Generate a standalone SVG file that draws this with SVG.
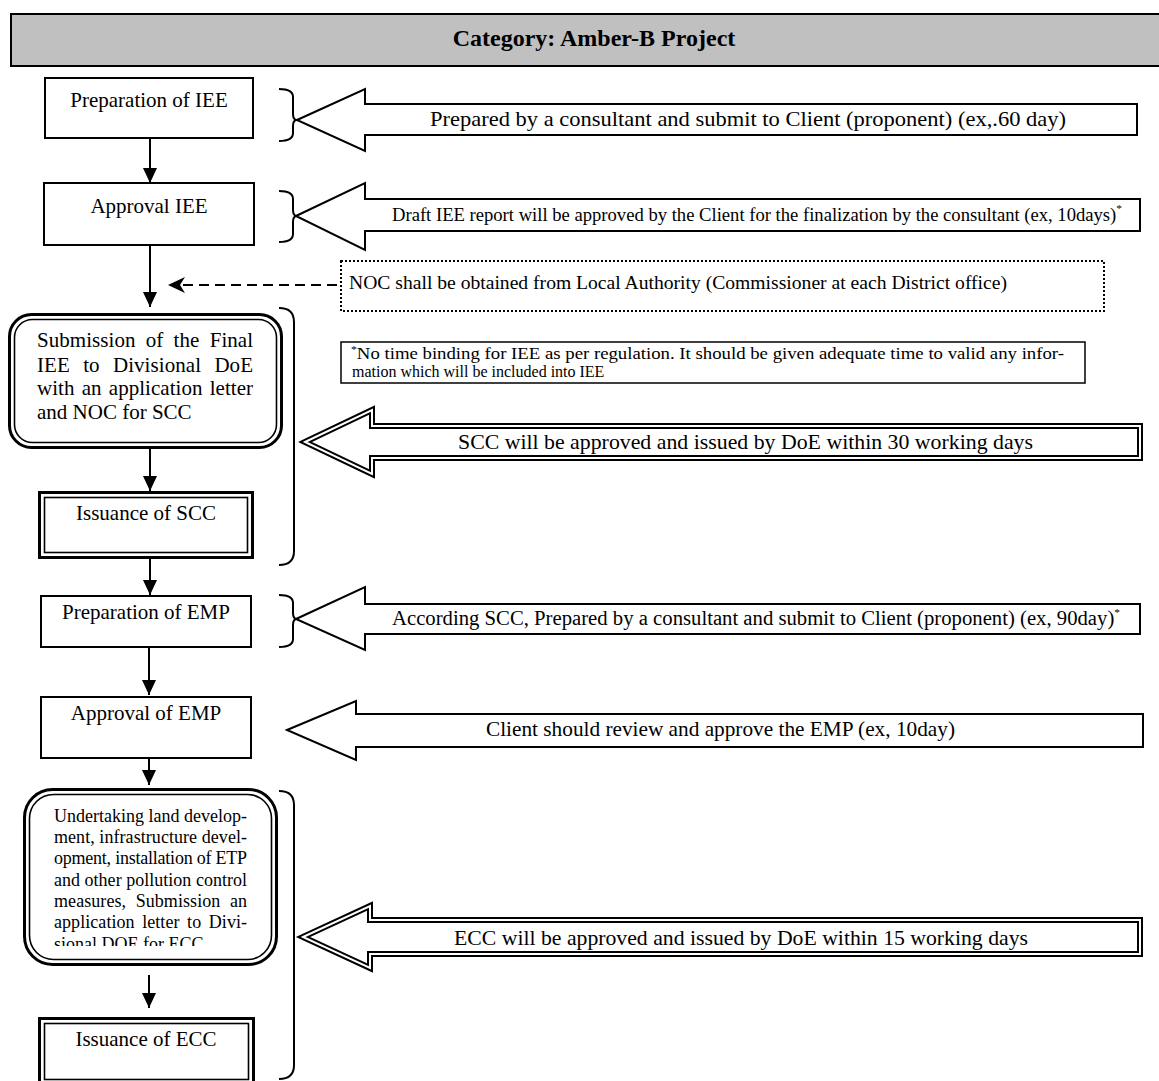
<svg xmlns="http://www.w3.org/2000/svg" width="1159" height="1081" viewBox="0 0 1159 1081">
<style>
text{font-family:"Liberation Serif","Times New Roman",serif;fill:#000}
.t{font-size:21px}
.c{text-anchor:middle}
.box{fill:#fff;stroke:#000;stroke-width:2}
.dbo{fill:#fff;stroke:#000;stroke-width:3}
.dbi{fill:none;stroke:#000;stroke-width:1.6}
.br{fill:none;stroke:#000;stroke-width:2}
.ha{fill:#fff;stroke:#000;stroke-width:2;stroke-linejoin:miter}
.dao{fill:#fff;stroke:#000;stroke-width:6;stroke-linejoin:miter}
.dai{fill:none;stroke:#fff;stroke-width:2;stroke-linejoin:miter}
.ln{stroke:#000;stroke-width:2;fill:none}
.sup{font-size:11px}
</style>
<defs>
<marker id="ah" markerUnits="userSpaceOnUse" markerWidth="15" markerHeight="14" viewBox="0 0 15 14" refX="15" refY="7" orient="auto"><path d="M0,0 L15,7 L0,14 z" fill="#000"/></marker>
<clipPath id="clipU"><rect x="30" y="795" width="242" height="151"/></clipPath>
</defs>

<g id="header">
<rect x="11" y="14" width="1160" height="52" fill="#c0c0c0" stroke="#000" stroke-width="2"/>
<text x="594" y="46" class="c" style="font-size:24px;font-weight:bold">Category: Amber-B Project</text>
</g>

<g id="connectors">
<line class="ln" x1="150" y1="138" x2="150" y2="183" marker-end="url(#ah)"/>
<line class="ln" x1="150" y1="245" x2="150" y2="307" marker-end="url(#ah)"/>
<line class="ln" x1="150" y1="449" x2="150" y2="491" marker-end="url(#ah)"/>
<line class="ln" x1="150" y1="559" x2="150" y2="595" marker-end="url(#ah)"/>
<line class="ln" x1="149" y1="647" x2="149" y2="695" marker-end="url(#ah)"/>
<line class="ln" x1="149" y1="758" x2="149" y2="785" marker-end="url(#ah)"/>
<line class="ln" x1="149" y1="975" x2="149" y2="1008" marker-end="url(#ah)"/>
<line x1="337" y1="285" x2="180" y2="285" stroke="#000" stroke-width="2" stroke-dasharray="10,6"/>
<path d="M168,285 L185,277 L180,285 L185,293 Z" fill="#000"/>
</g>

<g id="brackets">
<path class="br" d="M279,89 Q293,89 293,97 L293,114 Q293,120 297,120 Q293,120 293,126 L293,133 Q293,141 279,141"/>
<path class="br" d="M279,191 Q293,191 293,199 L293,210 Q293,216 297,216 Q293,216 293,222 L293,234 Q293,242 279,242"/>
<path class="br" d="M279,308 Q294,308 294,322 L294,551 Q294,565 279,565"/>
<path class="br" d="M279,595 Q293,595 293,603 L293,613 Q293,619 297,619 Q293,619 293,625 L293,639 Q293,647 279,647"/>
<path class="br" d="M279,791 Q294,791 294,805 L294,1065 Q294,1079 279,1079"/>
</g>

<g id="n-prep-iee">
<rect class="box" x="45" y="78" width="208" height="60"/>
<text class="t c" x="149" y="107">Preparation of IEE</text>
</g>

<g id="n-approval-iee">
<rect class="box" x="44" y="183" width="210" height="62"/>
<text class="t c" x="149" y="213">Approval IEE</text>
</g>

<g id="n-submission">
<rect class="dbo" x="9.5" y="314.5" width="272" height="133" rx="22"/>
<rect class="dbi" x="14.5" y="319.5" width="262" height="123" rx="18"/>
<text class="t" x="37" y="347" word-spacing="5" textLength="216" lengthAdjust="spacing">Submission of the Final</text>
<text class="t" x="37" y="372" word-spacing="8" textLength="216" lengthAdjust="spacing">IEE to Divisional DoE</text>
<text class="t" x="37" y="395" word-spacing="2" textLength="216" lengthAdjust="spacing">with an application letter</text>
<text class="t" x="37" y="419">and NOC for SCC</text>
</g>

<g id="n-issuance-scc">
<rect class="dbo" x="39.5" y="492.5" width="213" height="65"/>
<rect class="dbi" x="44.5" y="497.5" width="203" height="55"/>
<text class="t c" x="146" y="520">Issuance of SCC</text>
</g>

<g id="n-prep-emp">
<rect class="box" x="41" y="596" width="210" height="51"/>
<text class="t c" x="146" y="619">Preparation of EMP</text>
</g>

<g id="n-approval-emp">
<rect class="box" x="41" y="697" width="210" height="61"/>
<text class="t c" x="146" y="720">Approval of EMP</text>
</g>

<g id="n-undertaking">
<rect class="dbo" x="24.5" y="789.5" width="252" height="175" rx="28"/>
<rect class="dbi" x="29.5" y="794.5" width="242" height="165" rx="24"/>
<g style="font-size:18px">
<text x="54" y="822" textLength="193" lengthAdjust="spacing">Undertaking land develop-</text>
<text x="54" y="843" textLength="193" lengthAdjust="spacing">ment, infrastructure devel-</text>
<text x="54" y="864" textLength="193" lengthAdjust="spacing">opment, installation of ETP</text>
<text x="54" y="886" textLength="193" lengthAdjust="spacing">and other pollution control</text>
<text x="54" y="907" word-spacing="5" textLength="193" lengthAdjust="spacing">measures, Submission an</text>
<text x="54" y="928" word-spacing="3" textLength="193" lengthAdjust="spacing">application letter to Divi-</text>
<text x="54" y="950" clip-path="url(#clipU)">sional DOE for ECC</text>
</g>
</g>

<g id="n-issuance-ecc">
<rect class="dbo" x="39.5" y="1018.5" width="214" height="72"/>
<rect class="dbi" x="44.5" y="1023.5" width="204" height="56"/>
<text class="t c" x="146" y="1046">Issuance of ECC</text>
</g>

<g id="a-prepared">
<path class="ha" d="M297,120 L365,89 L365,104 L1137,104 L1137,135 L365,135 L365,151 Z"/>
<text class="t c" x="748" y="126" textLength="636" lengthAdjust="spacingAndGlyphs">Prepared by a consultant and submit to Client (proponent) (ex,.60 day)</text>
</g>

<g id="a-draft">
<path class="ha" d="M296,216 L365,183 L365,199 L1140,199 L1140,231 L365,231 L365,250 Z"/>
<text x="392" y="221" style="font-size:18px" textLength="730" lengthAdjust="spacingAndGlyphs">Draft IEE report will be approved by the Client for the finalization by the consultant (ex, 10days)<tspan class="sup" dy="-9">*</tspan></text>
</g>

<g id="n-noc">
<rect x="341" y="261" width="763" height="50" fill="#fff" stroke="#000" stroke-width="2" stroke-dasharray="2,2"/>
<text x="349" y="289" style="font-size:19px" textLength="658" lengthAdjust="spacingAndGlyphs">NOC shall be obtained from Local Authority (Commissioner at each District office)</text>
</g>

<g id="n-note">
<rect x="341" y="342" width="744" height="41" fill="#fff" stroke="#000" stroke-width="1.5"/>
<text x="351" y="359" style="font-size:16px" textLength="713" lengthAdjust="spacingAndGlyphs"><tspan style="font-size:10px" dy="-6">*</tspan><tspan dy="6">No time binding for IEE as per regulation. It should be given adequate time to valid any infor-</tspan></text>
<text x="352" y="377" style="font-size:16px">mation which will be included into IEE</text>
</g>

<g id="a-scc">
<path class="dao" d="M305,442 L372,410 L372,426 L1140,426 L1140,458 L372,458 L372,474 Z"/>
<path class="dai" d="M305,442 L372,410 L372,426 L1140,426 L1140,458 L372,458 L372,474 Z"/>
<text x="458" y="449" style="font-size:22px" textLength="575" lengthAdjust="spacingAndGlyphs">SCC will be approved and issued by DoE within 30 working days</text>
</g>

<g id="a-according">
<path class="ha" d="M296,619 L365,587 L365,604 L1140,604 L1140,634 L365,634 L365,650 Z"/>
<text x="392" y="625" style="font-size:20px" textLength="728" lengthAdjust="spacingAndGlyphs">According SCC, Prepared by a consultant and submit to Client (proponent) (ex, 90day)<tspan class="sup" dy="-9">*</tspan></text>
</g>

<g id="a-client">
<path class="ha" d="M287,730 L356,701 L356,714 L1143,714 L1143,747 L356,747 L356,760 Z"/>
<text class="t" x="486" y="736" textLength="469" lengthAdjust="spacingAndGlyphs">Client should review and approve the EMP (ex, 10day)</text>
</g>

<g id="a-ecc">
<path class="dao" d="M303,937 L370,906 L370,920 L1140,920 L1140,954 L370,954 L370,968 Z"/>
<path class="dai" d="M303,937 L370,906 L370,920 L1140,920 L1140,954 L370,954 L370,968 Z"/>
<text x="454" y="945" style="font-size:22px" textLength="574" lengthAdjust="spacingAndGlyphs">ECC will be approved and issued by DoE within 15 working days</text>
</g>
</svg>
